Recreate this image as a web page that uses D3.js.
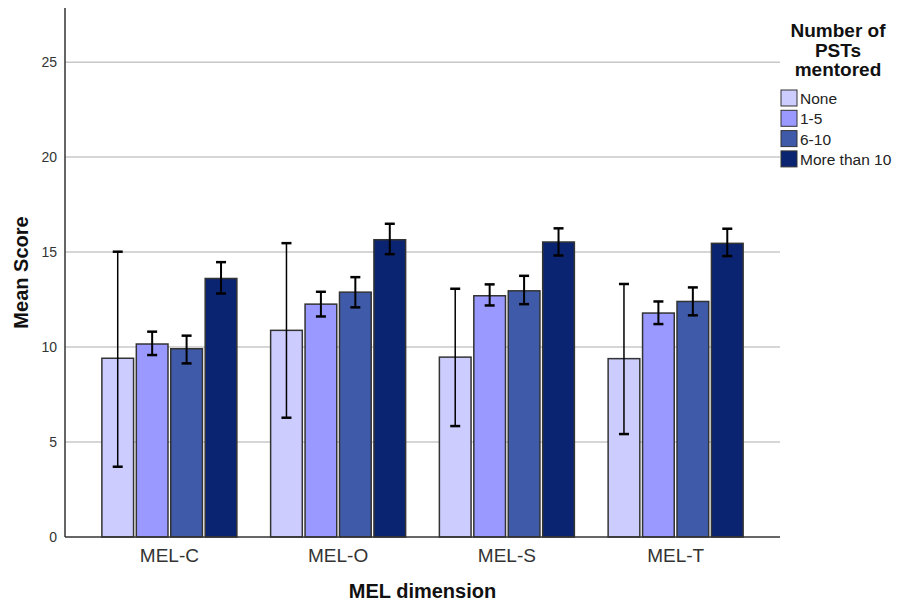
<!DOCTYPE html>
<html>
<head>
<meta charset="utf-8">
<script src="https://cdn.jsdelivr.net/npm/d3@7"></script>
<style>
  html, body { margin: 0; padding: 0; background: #fff; }
  svg { display: block; font-family: "Liberation Sans", Arial, sans-serif; }
</style>
</head>
<body>
<svg id="chart" width="904" height="603"></svg>
<script>
const categories = ["MEL-C", "MEL-O", "MEL-S", "MEL-T"];
const groups = ["None", "1-5", "6-10", "More than 10"];
const colors = ["#ccccff", "#9999ff", "#3f5aa9", "#0b2471"];
// mean values per group (rows = groups, cols = categories)
const meanNone = [9.41, 10.88, 9.47, 9.39];
const mean1to5 = [10.16, 12.26, 12.70, 11.79];
const mean6to10 = [9.91, 12.89, 12.96, 12.40];
const meanOver10 = [13.61, 15.65, 15.53, 15.46];
// error bar limits
const lowNone = [3.70, 6.28, 5.84, 5.42];
const highNone = [15.02, 15.47, 13.07, 13.32];
const low1to5 = [9.58, 11.61, 12.19, 11.21];
const high1to5 = [10.81, 12.91, 13.30, 12.40];
const low6to10 = [9.14, 12.09, 12.26, 11.67];
const high6to10 = [10.60, 13.68, 13.75, 13.14];
const lowOver10 = [12.82, 14.89, 14.82, 14.79];
const highOver10 = [14.47, 16.49, 16.25, 16.23];
const yTicks = [0, 5, 10, 15, 20, 25];

const means = [meanNone, mean1to5, mean6to10, meanOver10];
const lows = [lowNone, low1to5, low6to10, lowOver10];
const highs = [highNone, high1to5, high6to10, highOver10];

const data = [];
categories.forEach((c, ci) => {
  groups.forEach((g, gi) => {
    data.push({cat: c, grp: g, gi: gi, v: means[gi][ci], lo: lows[gi][ci], hi: highs[gi][ci]});
  });
});

const svg = d3.select("#chart");
const pLeft = 65, pRight = 780, pTop = 8, pBottom = 537;

const y = d3.scaleLinear().domain([0, 27.85]).range([pBottom, pTop]);
const x0 = d3.scaleBand().domain(categories).range([85, 760]).paddingInner(0.2).paddingOuter(0.1);
const x1 = d3.scaleBand().domain(groups).range([0, x0.bandwidth()]).paddingInner(0.08);

// gridlines
svg.append("g").selectAll("line").data(yTicks.filter(t => t > 0)).join("line")
  .attr("x1", pLeft).attr("x2", pRight)
  .attr("y1", d => y(d)).attr("y2", d => y(d))
  .attr("stroke", "#c8c8c8").attr("stroke-width", 1.5);

// bars
svg.append("g").selectAll("rect").data(data).join("rect")
  .attr("x", d => x0(d.cat) + x1(d.grp))
  .attr("y", d => y(d.v))
  .attr("width", x1.bandwidth())
  .attr("height", d => y(0) - y(d.v))
  .attr("fill", d => colors[d.gi])
  .attr("stroke", "#333")
  .attr("stroke-width", 1.5);

// error bars
const eb = svg.append("g").attr("stroke", "#000");
data.forEach(d => {
  const cx = x0(d.cat) + x1(d.grp) + x1.bandwidth() / 2;
  const w = d.gi === 0 ? 1.5 : 2;
  eb.append("line").attr("x1", cx).attr("x2", cx).attr("y1", y(d.lo)).attr("y2", y(d.hi)).attr("stroke-width", w);
  [d.lo, d.hi].forEach(v => {
    eb.append("line").attr("x1", cx - 5).attr("x2", cx + 5).attr("y1", y(v)).attr("y2", y(v)).attr("stroke-width", 2.5);
  });
});

// y axis
const yAxis = svg.append("g").attr("transform", `translate(${pLeft},0)`)
  .call(d3.axisLeft(y).tickValues(yTicks).tickSize(0).tickPadding(8));
yAxis.select(".domain").remove();
yAxis.selectAll("text").attr("font-size", 14).attr("fill", "#333").attr("font-family", "Liberation Sans, Arial, sans-serif");
svg.append("line").attr("x1", pLeft).attr("x2", pLeft).attr("y1", pTop).attr("y2", pBottom)
  .attr("stroke", "#333").attr("stroke-width", 1.5);

// x axis
const xAxis = svg.append("g").attr("transform", `translate(0,${pBottom})`)
  .call(d3.axisBottom(x0).tickSize(0).tickPadding(12));
xAxis.select(".domain").remove();
xAxis.selectAll("text").attr("font-size", 19).attr("fill", "#333").attr("font-family", "Liberation Sans, Arial, sans-serif");
svg.append("line").attr("x1", pLeft).attr("x2", pRight).attr("y1", pBottom).attr("y2", pBottom)
  .attr("stroke", "#333").attr("stroke-width", 1.5);

// axis titles
svg.append("text").attr("x", (pLeft + pRight) / 2).attr("y", 598)
  .attr("text-anchor", "middle").attr("font-size", 20).attr("font-weight", "bold").attr("fill", "#111")
  .text("MEL dimension");
svg.append("text").attr("transform", `translate(21,${(pTop + pBottom) / 2}) rotate(-90)`)
  .attr("text-anchor", "middle").attr("dy", "0.35em").attr("font-size", 20).attr("font-weight", "bold").attr("fill", "#111")
  .text("Mean Score");

// legend
const legTitle = ["Number of", "PSTs", "mentored"];
svg.append("g").selectAll("text").data(legTitle).join("text")
  .attr("x", 838).attr("y", (d, i) => 37 + i * 19.5)
  .attr("text-anchor", "middle").attr("font-size", 19).attr("font-weight", "bold").attr("fill", "#111")
  .text(d => d);
const leg = svg.append("g").selectAll("g").data(groups).join("g")
  .attr("transform", (d, i) => `translate(781,${90 + i * 20.3})`);
leg.append("rect").attr("width", 16).attr("height", 16)
  .attr("fill", (d, i) => colors[i]).attr("stroke", "#333").attr("stroke-width", 1);
leg.append("text").attr("x", 19).attr("y", 8.5).attr("dy", "0.35em")
  .attr("font-size", 15.5).attr("fill", "#222").text(d => d);
</script>
</body>
</html>
